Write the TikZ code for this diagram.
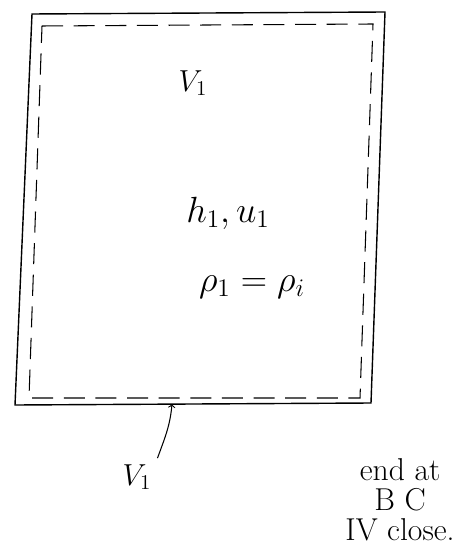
\documentclass[tikz,border=0pt]{standalone}
\usepackage{amsmath,amsfonts,amssymb}
\usepackage{xcolor}
\usepackage{tikz}

\begin{document}
\begin{tikzpicture}[x=0.02cm, y=-0.02cm]
                    \useasboundingbox (0,0) rectangle (474,550);

                    % Tank wall
                    \draw[thick] (32,14) -- (385,12) -- (371,403) -- (15,405) -- cycle;

                    % Control volume
                    \draw[semithick, dash pattern=on 12pt off 6pt] (42,26) -- (373,24) -- (360,398) -- (29,398) -- cycle;

                    % Labels inside
                    \node (vtop) at (193,83) {\LARGE $V_1$};
                    \node (state) at (228,213) {\huge $h_1, u_1$};
                    \node (dens) at (252,287) {\huge $\rho_1 = \rho_i$};

                    % Inlet
                    \coordinate (inlet) at (172,404);
                    \node (vin) at (137,477) {\LARGE $V_1$};
                    \draw[semithick, ->] (vin.north east) to[out=70, in=-95] (inlet);

                    % Note
                    \node[align=center, font=\fontsize{18}{17}\selectfont] (note) at (400,500) {end at\\ B C\\ IV close.};
                \end{tikzpicture}
\end{document}
